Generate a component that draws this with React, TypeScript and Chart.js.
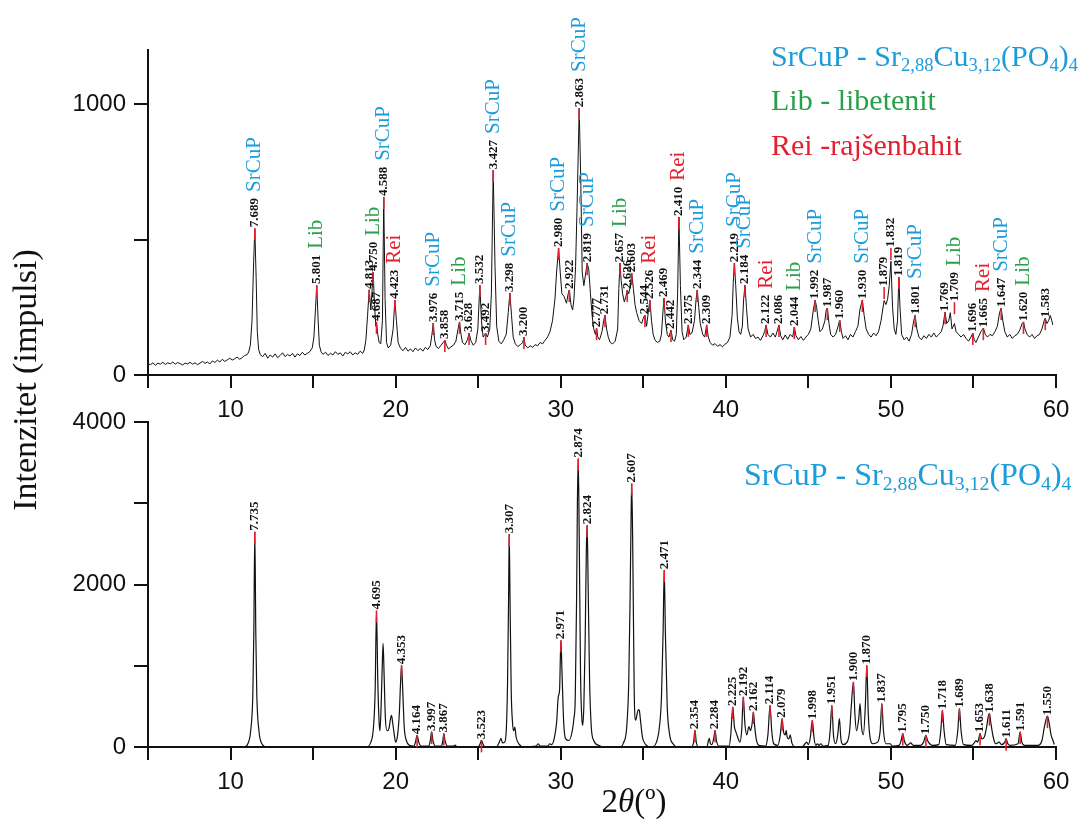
import React, { useEffect, useRef } from "react";
import { Chart, registerables } from "chart.js";

Chart.register(...registerables);

const SERIF = "'Liberation Serif', 'Times New Roman', serif";
const SANS = "'Liberation Sans', Arial, sans-serif";

// ---- axes ----
const xTicks = [5, 10, 15, 20, 25, 30, 35, 40, 45, 50, 55, 60];
const xTickLabels = ["", "10", "", "20", "", "30", "", "40", "", "50", "", "60"];
const topYTicks = [0, 500, 1000];
const topYTickLabels = ["0", "", "1000"];
const topYMax = 1200;
const bottomYTicks = [0, 1000, 2000, 3000, 4000];
const bottomYTickLabels = ["0", "", "2000", "", "4000"];
const bottomYMax = 4000;

const yTitle = "Intenzitet (impulsi)";
const xTitleParts: [string, boolean][] = [["2", false], ["θ", true], ["(º)", false]];

// ---- legend texts ----
const formulaParts: [string, boolean][] = [
  ["SrCuP - Sr", false], ["2,88", true], ["Cu", false], ["3,12", true],
  ["(PO", false], ["4", true], [")", false], ["4", true],
];
const libLegend = "Lib - libetenit";
const reiLegend = "Rei -rajšenbahit";

const phaseColors: Record<string, string> = {
  SrCuP: "#1c9dd9",
  Lib: "#2aa04a",
  Rei: "#e3202f",
};

// ---- measured sample (top panel): [2theta, counts] ----
const topScan: [number, number][] = [
  [5.0, 42], [5.15, 38], [5.3, 45], [5.45, 36], [5.6, 44], [5.75, 40], [5.9, 47], [6.05, 39], [6.2, 45], [6.35, 41],
  [6.5, 48], [6.65, 40], [6.8, 46], [6.95, 42], [7.1, 37], [7.25, 44], [7.4, 41], [7.55, 47], [7.7, 40], [7.85, 45],
  [8.0, 38], [8.15, 44], [8.3, 50], [8.45, 43], [8.6, 48], [8.75, 41], [8.9, 52], [9.05, 46], [9.2, 55], [9.35, 48],
  [9.5, 58], [9.65, 50], [9.8, 56], [9.95, 62], [10.1, 55], [10.25, 60], [10.4, 66], [10.55, 58], [10.7, 64], [10.85, 72],
  [11.0, 75], [11.1, 85], [11.2, 110], [11.3, 200], [11.4, 420], [11.47, 540], [11.55, 360], [11.62, 160], [11.7, 95], [11.8, 75],
  [11.95, 68], [12.1, 80], [12.25, 62], [12.4, 74], [12.55, 66], [12.7, 78], [12.85, 64], [13.0, 72], [13.15, 82], [13.3, 68],
  [13.45, 76], [13.6, 70], [13.75, 80], [13.9, 66], [14.05, 78], [14.2, 72], [14.35, 84], [14.5, 74], [14.65, 80], [14.8, 86],
  [14.95, 100], [15.05, 140], [15.15, 250], [15.22, 330], [15.3, 210], [15.38, 110], [15.48, 86], [15.6, 76], [15.75, 84], [15.9, 72],
  [16.05, 80], [16.2, 74], [16.35, 86], [16.5, 76], [16.65, 82], [16.8, 70], [16.95, 84], [17.1, 78], [17.25, 86], [17.4, 74],
  [17.55, 82], [17.7, 76], [17.85, 88], [18.0, 80], [18.1, 92], [18.2, 130], [18.3, 220], [18.4, 315], [18.5, 240], [18.58, 320],
  [18.64, 380], [18.72, 260], [18.8, 180], [18.84, 196], [18.92, 150], [19.0, 120], [19.1, 115], [19.2, 200], [19.28, 657], [19.36, 280],
  [19.45, 120], [19.55, 100], [19.7, 110], [19.85, 170], [19.95, 277], [20.05, 200], [20.15, 120], [20.3, 98], [20.45, 90], [20.6, 102],
  [20.75, 88], [20.9, 96], [21.05, 86], [21.2, 100], [21.35, 90], [21.5, 98], [21.65, 88], [21.8, 102], [21.95, 94], [22.1, 108],
  [22.2, 150], [22.28, 192], [22.36, 130], [22.45, 105], [22.6, 98], [22.75, 110], [22.88, 120], [22.98, 129], [23.08, 110], [23.2, 96],
  [23.35, 104], [23.5, 110], [23.65, 125], [23.78, 170], [23.87, 196], [23.96, 150], [24.05, 120], [24.2, 112], [24.35, 130], [24.45, 155],
  [24.55, 128], [24.7, 110], [24.85, 120], [24.98, 170], [25.1, 332], [25.2, 200], [25.3, 140], [25.4, 150], [25.45, 155], [25.56, 140],
  [25.7, 170], [25.8, 300], [25.91, 756], [26.02, 400], [26.12, 180], [26.25, 125], [26.4, 115], [26.55, 130], [26.7, 150], [26.82, 230],
  [26.92, 303], [27.02, 220], [27.12, 140], [27.25, 115], [27.4, 105], [27.55, 112], [27.7, 120], [27.77, 140], [27.85, 110], [28.0, 100],
  [28.15, 108], [28.3, 102], [28.45, 112], [28.6, 108], [28.75, 120], [28.9, 115], [29.05, 128], [29.2, 140], [29.35, 160], [29.5, 200],
  [29.65, 280], [29.75, 380], [29.87, 469], [29.97, 380], [30.07, 300], [30.2, 290], [30.35, 265], [30.45, 300], [30.52, 314], [30.62, 260],
  [30.72, 240], [30.8, 280], [30.9, 400], [31.0, 650], [31.12, 985], [31.22, 700], [31.3, 380], [31.4, 330], [31.5, 370], [31.6, 413],
  [31.7, 390], [31.8, 300], [31.9, 220], [32.0, 170], [32.1, 150], [32.17, 173], [32.25, 140], [32.35, 130], [32.5, 160], [32.6, 200],
  [32.68, 221], [32.78, 170], [32.88, 140], [33.0, 120], [33.15, 115], [33.3, 125], [33.45, 170], [33.52, 320], [33.59, 413], [33.66, 350],
  [33.75, 300], [33.85, 270], [33.95, 290], [34.03, 314], [34.12, 300], [34.22, 330], [34.3, 376], [34.4, 320], [34.5, 260], [34.6, 230],
  [34.75, 200], [34.9, 190], [35.0, 210], [35.1, 221], [35.2, 180], [35.3, 230], [35.4, 277], [35.5, 200], [35.6, 150], [35.7, 130],
  [35.85, 120], [36.0, 125], [36.1, 150], [36.2, 240], [36.26, 284], [36.34, 200], [36.45, 150], [36.55, 140], [36.68, 166], [36.78, 130],
  [36.9, 125], [37.0, 150], [37.08, 300], [37.16, 583], [37.25, 330], [37.35, 160], [37.45, 130], [37.6, 140], [37.73, 185], [37.82, 150],
  [37.95, 155], [38.1, 200], [38.2, 280], [38.27, 314], [38.36, 250], [38.45, 190], [38.6, 150], [38.72, 140], [38.84, 185], [38.94, 140],
  [39.05, 120], [39.2, 110], [39.35, 116], [39.5, 106], [39.65, 112], [39.8, 104], [39.95, 114], [40.1, 120], [40.25, 140], [40.38, 220],
  [40.45, 340], [40.52, 413], [40.6, 330], [40.7, 210], [40.8, 160], [40.9, 150], [41.0, 180], [41.08, 280], [41.16, 332], [41.25, 250],
  [41.35, 170], [41.5, 140], [41.65, 150], [41.8, 135], [41.95, 140], [42.1, 128], [42.25, 145], [42.35, 160], [42.44, 185], [42.55, 150],
  [42.7, 140], [42.85, 155], [43.0, 140], [43.1, 160], [43.22, 185], [43.32, 145], [43.45, 130], [43.6, 148], [43.75, 132], [43.9, 150],
  [44.05, 140], [44.15, 177], [44.25, 145], [44.4, 130], [44.55, 142], [44.7, 128], [44.85, 140], [45.0, 150], [45.15, 170], [45.3, 240],
  [45.41, 277], [45.5, 250], [45.6, 200], [45.7, 160], [45.85, 170], [46.0, 200], [46.08, 240], [46.15, 247], [46.25, 190], [46.35, 150],
  [46.5, 140], [46.65, 150], [46.8, 180], [46.9, 203], [47.0, 160], [47.1, 135], [47.25, 145], [47.4, 130], [47.55, 150], [47.7, 140],
  [47.85, 160], [48.0, 180], [48.12, 240], [48.27, 277], [48.38, 220], [48.5, 170], [48.65, 150], [48.8, 140], [48.95, 155], [49.1, 145],
  [49.25, 160], [49.4, 200], [49.5, 240], [49.59, 275], [49.7, 260], [49.8, 280], [49.9, 330], [50.0, 420], [50.1, 250], [50.2, 170],
  [50.3, 150], [50.4, 200], [50.48, 362], [50.55, 250], [50.65, 150], [50.8, 130], [50.95, 140], [51.1, 125], [51.25, 150], [51.38, 200],
  [51.47, 221], [51.57, 170], [51.7, 140], [51.85, 130], [52.0, 145], [52.15, 135], [52.3, 150], [52.45, 140], [52.6, 155], [52.75, 140],
  [52.9, 150], [53.05, 160], [53.15, 180], [53.28, 232], [53.38, 190], [53.5, 200], [53.6, 230], [53.7, 170], [53.85, 190], [53.95, 160],
  [54.1, 150], [54.25, 140], [54.4, 150], [54.55, 135], [54.7, 125], [54.85, 140], [54.96, 155], [55.05, 130], [55.15, 120], [55.3, 140],
  [55.45, 160], [55.6, 173], [55.72, 150], [55.85, 140], [56.0, 150], [56.15, 145], [56.3, 160], [56.45, 180], [56.58, 230], [56.68, 247],
  [56.78, 200], [56.9, 160], [57.05, 140], [57.2, 150], [57.35, 135], [57.5, 145], [57.65, 150], [57.8, 165], [57.95, 190], [58.03, 196],
  [58.12, 170], [58.25, 150], [58.4, 140], [58.55, 150], [58.7, 135], [58.85, 145], [59.0, 150], [59.15, 170], [59.28, 200], [59.35, 210],
  [59.45, 190], [59.55, 200], [59.65, 220], [59.75, 200], [59.8, 185],
];

// ---- reference pattern (bottom panel): [2theta, counts] ----
const bottomScan: [number, number][] = [
  [5.0, 0], [10.8, 0], [11.07, 50], [11.22, 200], [11.35, 650], [11.41, 1400], [11.47, 2650], [11.53, 1400], [11.59, 650], [11.72, 200],
  [11.87, 50], [12.2, 0], [18.2, 0], [18.5, 60], [18.66, 250], [18.76, 700], [18.84, 1680], [18.92, 800], [19.0, 300], [19.05, 200],
  [19.12, 500], [19.19, 1000], [19.24, 1277], [19.3, 900], [19.38, 350], [19.48, 200], [19.6, 230], [19.69, 350], [19.75, 390], [19.82, 300],
  [19.92, 150], [20.0, 60], [20.12, 150], [20.22, 400], [20.3, 800], [20.36, 1006], [20.43, 700], [20.52, 250], [20.65, 80], [20.85, 20],
  [21.1, 10], [21.2, 60], [21.3, 144], [21.4, 60], [21.55, 10], [22.0, 10], [22.1, 80], [22.18, 185], [22.26, 80], [22.4, 10],
  [22.78, 10], [22.86, 80], [22.92, 165], [22.99, 80], [23.15, 10], [23.5, 10], [23.6, 22], [23.7, 5], [25.0, 0], [25.12, 40],
  [25.2, 82], [25.28, 40], [25.4, 0], [26.1, 0], [26.28, 60], [26.38, 107], [26.47, 50], [26.6, 60], [26.7, 200], [26.78, 800],
  [26.84, 1800], [26.88, 2620], [26.93, 1800], [27.0, 700], [27.08, 300], [27.15, 200], [27.22, 246], [27.3, 120], [27.5, 30], [27.8, 0],
  [28.5, 10], [28.64, 40], [28.75, 10], [29.2, 10], [29.35, 40], [29.45, 30], [29.6, 100], [29.75, 300], [29.85, 616], [29.93, 700],
  [30.01, 1314], [30.08, 900], [30.18, 300], [30.3, 100], [30.5, 80], [30.7, 200], [30.8, 353], [30.88, 600], [30.96, 1800], [31.01, 3000],
  [31.06, 3551], [31.12, 2600], [31.2, 900], [31.28, 350], [31.33, 267], [31.4, 500], [31.48, 1300], [31.55, 2400], [31.6, 2730], [31.66, 2000],
  [31.75, 800], [31.85, 250], [32.0, 80], [32.3, 20], [32.6, 0], [33.6, 0], [33.8, 50], [34.0, 250], [34.12, 800], [34.2, 1800],
  [34.26, 2800], [34.3, 3243], [34.36, 2500], [34.45, 700], [34.54, 329], [34.62, 400], [34.7, 460], [34.76, 452], [34.82, 350], [34.95, 120],
  [35.15, 30], [35.5, 0], [35.8, 60], [35.98, 250], [36.1, 600], [36.2, 1400], [36.27, 2176], [36.34, 1400], [36.45, 500], [36.6, 150],
  [36.8, 40], [37.1, 0], [37.9, 0], [38.05, 60], [38.13, 206], [38.21, 60], [38.35, 0], [38.85, 0], [38.95, 80], [39.0, 107],
  [39.07, 40], [39.15, 30], [39.28, 120], [39.35, 206], [39.43, 80], [39.6, 10], [40.2, 10], [40.3, 150], [40.42, 493], [40.52, 250],
  [40.62, 180], [40.72, 120], [40.85, 60], [40.96, 200], [41.06, 616], [41.15, 300], [41.27, 150], [41.4, 250], [41.5, 200], [41.6, 300],
  [41.67, 431], [41.75, 250], [41.85, 90], [42.0, 20], [42.4, 10], [42.55, 150], [42.68, 513], [42.78, 200], [42.9, 40], [43.15, 20],
  [43.3, 150], [43.41, 349], [43.5, 180], [43.6, 150], [43.65, 206], [43.72, 120], [43.82, 100], [43.9, 150], [44.0, 50], [44.2, 0],
  [44.6, 0], [44.8, 40], [44.9, 60], [45.0, 30], [45.12, 120], [45.24, 329], [45.34, 120], [45.45, 20], [45.55, 40], [45.65, 20],
  [45.75, 40], [45.9, 10], [46.2, 20], [46.32, 200], [46.42, 513], [46.52, 150], [46.65, 40], [46.78, 150], [46.88, 349], [46.97, 100],
  [47.1, 30], [47.35, 60], [47.5, 200], [47.6, 500], [47.73, 800], [47.82, 400], [47.92, 200], [48.05, 350], [48.13, 534], [48.22, 250],
  [48.33, 150], [48.45, 500], [48.54, 1006], [48.63, 400], [48.75, 100], [48.9, 40], [49.2, 60], [49.35, 200], [49.45, 534], [49.55, 200],
  [49.7, 40], [49.95, 40], [50.1, 10], [50.5, 20], [50.62, 80], [50.72, 165], [50.82, 70], [51.0, 20], [51.2, 50], [51.35, 20],
  [51.8, 20], [51.98, 60], [52.12, 144], [52.22, 80], [52.35, 40], [52.5, 20], [52.9, 30], [53.02, 200], [53.12, 452], [53.22, 200],
  [53.35, 30], [53.9, 20], [54.05, 200], [54.15, 473], [54.25, 200], [54.4, 30], [54.9, 20], [55.05, 50], [55.15, 80], [55.25, 60],
  [55.32, 100], [55.4, 169], [55.5, 100], [55.65, 120], [55.8, 250], [55.9, 380], [55.97, 411], [56.05, 300], [56.2, 120], [56.35, 40],
  [56.55, 60], [56.7, 30], [56.9, 60], [56.98, 103], [57.06, 50], [57.2, 20], [57.7, 40], [57.83, 185], [57.93, 60], [58.1, 20],
  [58.9, 20], [59.15, 80], [59.3, 250], [59.48, 380], [59.58, 300], [59.7, 150], [59.8, 90], [59.9, 30],
];

// ---- peak annotations, top panel ----
const topPeakTheta = [11.47, 15.22, 18.40, 18.64, 18.84, 19.28, 19.95, 22.28, 22.98, 23.87, 24.45, 25.10, 25.45, 25.91, 26.92, 27.77, 29.87, 30.52, 31.12, 31.60, 32.17, 32.68, 33.59, 34.03, 34.30, 35.10, 35.40, 36.26, 36.68, 37.16, 37.73, 38.27, 38.84, 40.52, 41.16, 42.44, 43.22, 44.15, 45.41, 46.15, 46.90, 48.27, 49.59, 50.00, 50.48, 51.47, 53.28, 53.85, 54.96, 55.60, 56.68, 58.03, 59.35];
const topPeakTop = [542, 332, 314, 380, 196, 657, 277, 192, 129, 196, 155, 332, 155, 756, 303, 140, 469, 314, 985, 413, 173, 221, 413, 314, 376, 221, 277, 284, 166, 583, 185, 314, 185, 413, 332, 185, 185, 177, 277, 247, 203, 277, 325, 469, 362, 221, 232, 269, 155, 173, 247, 196, 210];
const topPeakD = ["7.689", "5.801", "4.813", "4.750", "4.687", "4.588", "4.423", "3.976", "3.858", "3.715", "3.628", "3.532", "3.492", "3.427", "3.298", "3.200", "2.980", "2.922", "2.863", "2.819", "2.777", "2.731", "2.657", "2.626", "2.603", "2.544", "2.526", "2.469", "2.442", "2.410", "2.375", "2.344", "2.309", "2.219", "2.184", "2.122", "2.086", "2.044", "1.992", "1.987", "1.960", "1.930", "1.879", "1.832", "1.819", "1.801", "1.769", "1.709", "1.696", "1.665", "1.647", "1.620", "1.583"];
const topPeakPhase = ["SrCuP", "Lib", "", "Lib", "", "SrCuP", "Rei", "SrCuP", "", "Lib", "", "", "", "SrCuP", "SrCuP", "", "SrCuP", "", "SrCuP", "SrCuP", "", "", "Lib", "", "", "", "Rei", "", "", "Rei", "", "SrCuP", "", "SrCuP", "SrCuP", "Rei", "", "Lib", "SrCuP", "", "", "SrCuP", "", "", "", "SrCuP", "", "Lib", "", "Rei", "SrCuP", "Lib", ""];

// ---- peak annotations, bottom panel ----
const bottomPeakTheta = [11.47, 18.84, 20.36, 21.30, 22.18, 22.92, 25.20, 26.88, 30.01, 31.06, 31.60, 34.30, 36.27, 38.13, 39.35, 40.42, 41.06, 41.67, 42.68, 43.41, 45.24, 46.42, 47.73, 48.54, 49.45, 50.72, 52.12, 53.12, 54.15, 55.40, 55.97, 56.98, 57.83, 59.48];
const bottomPeakTop = [2650, 1680, 1006, 144, 185, 165, 82, 2620, 1314, 3551, 2730, 3243, 2176, 206, 206, 493, 616, 431, 513, 349, 329, 513, 800, 1006, 534, 165, 144, 452, 473, 169, 411, 103, 185, 380];
const bottomPeakD = ["7.735", "4.695", "4.353", "4.164", "3.997", "3.867", "3.523", "3.307", "2.971", "2.874", "2.824", "2.607", "2.471", "2.354", "2.284", "2.225", "2.192", "2.162", "2.114", "2.079", "1.998", "1.951", "1.900", "1.870", "1.837", "1.795", "1.750", "1.718", "1.689", "1.653", "1.638", "1.611", "1.591", "1.550"];

// ---------------- drawing helpers ----------------
function vText(ctx: CanvasRenderingContext2D, text: string, x: number, yBottom: number, font: string, color: string) {
  ctx.save();
  ctx.font = font;
  const w = ctx.measureText(text).width;
  ctx.translate(x, yBottom);
  ctx.rotate(-Math.PI / 2);
  ctx.fillStyle = color;
  ctx.textAlign = "left";
  ctx.textBaseline = "middle";
  ctx.fillText(text, 0, 0);
  ctx.restore();
  return w;
}

function richText(ctx: CanvasRenderingContext2D, parts: [string, boolean][], x: number, y: number, size: number, color: string) {
  let cx = x;
  ctx.save();
  ctx.fillStyle = color;
  ctx.textAlign = "left";
  ctx.textBaseline = "alphabetic";
  for (const [t, sub] of parts) {
    const fs = sub ? size * 0.62 : size;
    ctx.font = `${fs}px ${SERIF}`;
    ctx.fillText(t, cx, sub ? y + size * 0.16 : y);
    cx += ctx.measureText(t).width;
  }
  ctx.restore();
}

function drawPeakLabels(chart: any, thetas: number[], tops: number[], labels: string[], phases: string[] | null) {
  const ctx: CanvasRenderingContext2D = chart.ctx;
  const xs = chart.scales.x;
  const ys = chart.scales.y;
  thetas.forEach((t, i) => {
    const px = xs.getPixelForValue(t);
    const py = ys.getPixelForValue(tops[i]);
    ctx.save();
    ctx.strokeStyle = "#e3202f";
    ctx.lineWidth = 1.6;
    ctx.beginPath();
    ctx.moveTo(px, py);
    ctx.lineTo(px, py + 12);
    ctx.stroke();
    ctx.restore();
    const w = vText(ctx, labels[i], px, py - 1, `bold 13px ${SERIF}`, "#111");
    const ph = phases ? phases[i] : "";
    if (ph) {
      vText(ctx, ph, px, py - 1 - w - 6, `21px ${SERIF}`, phaseColors[ph]);
    }
  });
}

const topPlugin = {
  id: "topAnnotations",
  afterDatasetsDraw(chart: any) {
    const ctx: CanvasRenderingContext2D = chart.ctx;
    drawPeakLabels(chart, topPeakTheta, topPeakTop, topPeakD, topPeakPhase);
    richText(ctx, formulaParts, 771, 66, 30, phaseColors.SrCuP);
    richText(ctx, [[libLegend, false]], 771, 110, 30, phaseColors.Lib);
    richText(ctx, [[reiLegend, false]], 771, 155, 30, phaseColors.Rei);
    // shared y title
    ctx.save();
    ctx.translate(27, 380);
    ctx.rotate(-Math.PI / 2);
    ctx.font = `34px ${SERIF}`;
    ctx.fillStyle = "#111";
    ctx.textAlign = "center";
    ctx.textBaseline = "middle";
    ctx.fillText(yTitle, 0, 0);
    ctx.restore();
  },
};

const bottomPlugin = {
  id: "bottomAnnotations",
  afterDatasetsDraw(chart: any) {
    const ctx: CanvasRenderingContext2D = chart.ctx;
    drawPeakLabels(chart, bottomPeakTheta, bottomPeakTop, bottomPeakD, null);
    richText(ctx, formulaParts, 744, 485, 32, phaseColors.SrCuP);
    // x title with italic theta
    ctx.save();
    let total = 0;
    const fontFor = (it: boolean) => `${it ? "italic " : ""}33px ${SERIF}`;
    for (const [t, it] of xTitleParts) {
      ctx.font = fontFor(it);
      total += ctx.measureText(t).width;
    }
    let cx = 634 - total / 2;
    ctx.fillStyle = "#111";
    ctx.textBaseline = "alphabetic";
    ctx.textAlign = "left";
    for (const [t, it] of xTitleParts) {
      ctx.font = fontFor(it);
      ctx.fillText(t, cx, 812);
      cx += ctx.measureText(t).width;
    }
    ctx.restore();
  },
};

function scalesFor(yMax: number, yTicks: number[], yLabels: string[], xAxisHeight: number) {
  return {
    x: {
      type: "linear",
      min: 5,
      max: 60,
      afterBuildTicks: (s: any) => {
        s.ticks = xTicks.map((v) => ({ value: v }));
      },
      afterFit: (s: any) => {
        s.height = xAxisHeight;
      },
      ticks: {
        callback: (v: any) => {
          const i = xTicks.indexOf(Number(v));
          return i >= 0 ? xTickLabels[i] : "";
        },
        font: { family: SANS, size: 24 },
        color: "#111",
        padding: 8,
        maxRotation: 0,
        autoSkip: false,
      },
      grid: { display: true, drawOnChartArea: false, drawTicks: true, tickLength: 13, color: "#111", lineWidth: 2 },
      border: { display: true, color: "#111", width: 2 },
    },
    y: {
      type: "linear",
      min: 0,
      max: yMax,
      afterBuildTicks: (s: any) => {
        s.ticks = yTicks.map((v) => ({ value: v }));
      },
      afterFit: (s: any) => {
        s.width = 148;
      },
      ticks: {
        callback: (v: any) => {
          const i = yTicks.indexOf(Number(v));
          return i >= 0 ? yLabels[i] : "";
        },
        font: { family: SANS, size: 24 },
        color: "#111",
        padding: 8,
      },
      grid: { display: true, drawOnChartArea: false, drawTicks: true, tickLength: 14, color: "#111", lineWidth: 2 },
      border: { display: true, color: "#111", width: 2 },
    },
  };
}

export default function App() {
  const topRef = useRef<HTMLCanvasElement>(null);
  const botRef = useRef<HTMLCanvasElement>(null);

  useEffect(() => {
    const bottom = new Chart(botRef.current as HTMLCanvasElement, {
      type: "line",
      data: {
        datasets: [
          {
            data: bottomScan.map(([x, y]) => ({ x, y })),
            borderColor: "#111",
            borderWidth: 1.2,
            pointRadius: 0,
            cubicInterpolationMode: "monotone",
            fill: false,
          },
        ],
      },
      options: {
        responsive: false,
        animation: false,
        devicePixelRatio: 1,
        layout: { padding: { top: 422, right: 35, bottom: 0, left: 0 } },
        plugins: { legend: { display: false }, tooltip: { enabled: false }, title: { display: false } },
        scales: scalesFor(bottomYMax, bottomYTicks, bottomYTickLabels, 78) as any,
      },
      plugins: [bottomPlugin],
    } as any);

    const top = new Chart(topRef.current as HTMLCanvasElement, {
      type: "line",
      data: {
        datasets: [
          {
            data: topScan.map(([x, y]) => ({ x, y })),
            borderColor: "#111",
            borderWidth: 1,
            pointRadius: 0,
            tension: 0,
            fill: false,
          },
        ],
      },
      options: {
        responsive: false,
        animation: false,
        devicePixelRatio: 1,
        layout: { padding: { top: 50, right: 35, bottom: 405, left: 0 } },
        plugins: { legend: { display: false }, tooltip: { enabled: false }, title: { display: false } },
        scales: scalesFor(topYMax, topYTicks, topYTickLabels, 45) as any,
      },
      plugins: [topPlugin],
    } as any);

    return () => {
      top.destroy();
      bottom.destroy();
    };
  }, []);

  const canvasStyle: React.CSSProperties = { position: "absolute", left: 0, top: 0 };
  return (
    <div style={{ position: "absolute", left: 0, top: 0, width: 1091, height: 825, background: "#fff" }}>
      <canvas ref={botRef} width={1091} height={825} style={canvasStyle} />
      <canvas ref={topRef} width={1091} height={825} style={canvasStyle} />
    </div>
  );
}
